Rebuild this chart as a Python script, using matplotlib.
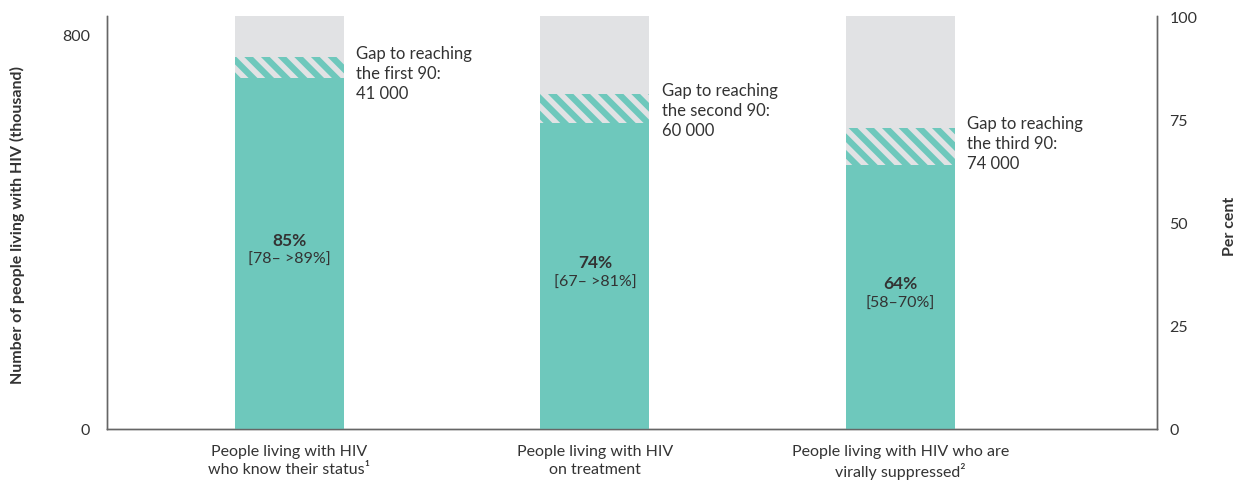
"""Treatment cascade bars with gaps to the 90-90-90 targets."""

import matplotlib
matplotlib.use("Agg")
import matplotlib.pyplot as plt

plt.rcParams["font.family"] = ["Lato", "DejaVu Sans"]
plt.rcParams["hatch.linewidth"] = 4.0

stages = [
    "People living with HIV\nwho know their status\u00b9",
    "People living with HIV\non treatment",
    "People living with HIV who are\nvirally suppressed\u00b2",
]
achieved = [85, 74, 64]          # per cent of all PLHIV
target = [90, 81, 73]            # 90, 90x90, 90x90x90
ranges = ["[78\u2013 >89%]", "[67\u2013 >81%]", "[58\u201370%]"]
gap_labels = [
    "Gap to reaching\nthe first 90:\n41 000",
    "Gap to reaching\nthe second 90:\n60 000",
    "Gap to reaching\nthe third 90:\n74 000",
]
plhiv_max = 838                  # thousand, equals 100 %

TEAL = "#6ec8bc"
GREY = "#e1e2e4"
TEXT = "#333333"
SPINE = "#666666"

fig = plt.figure(figsize=(12.42, 4.81), dpi=100)
ax = fig.add_axes([107 / 1242, 51 / 481, 1050 / 1242, 413 / 481])
ax2 = ax.twinx()

x = range(len(stages))
w = 0.357
ax2.bar(x, [100] * len(stages), width=w, color=GREY, linewidth=0)
gaps = [t - a for t, a in zip(target, achieved)]
ax2.bar(x, gaps, bottom=achieved, width=w, color=TEAL, edgecolor=GREY,
        hatch="\\\\", linewidth=0)
ax2.bar(x, achieved, width=w, color=TEAL, linewidth=0)

for i in x:
    mid = achieved[i] / 2
    ax2.annotate(f"{achieved[i]}%", (i, mid), xytext=(0, 10), textcoords="offset points",
                 ha="center", va="center", fontsize=12.5, fontweight="bold", color=TEXT)
    ax2.annotate(ranges[i], (i, mid), xytext=(0, -4), textcoords="offset points",
                 ha="center", va="center", fontsize=11.5, color=TEXT)
    ax2.annotate(gap_labels[i], (i + w / 2, target[i]), xytext=(9, 9),
                 textcoords="offset points", ha="left", va="top", fontsize=12,
                 color=TEXT, linespacing=1.3)

ax.set_xlim(-0.597, 2.84)
ax.set_ylim(0, plhiv_max)
ax2.set_ylim(0, 100)
ax.set_yticks([0, 800])
ax2.set_yticks([0, 25, 50, 75, 100])
ax.set_xticks(list(x))
ax.set_xticklabels(stages, fontsize=11.5, color=TEXT, linespacing=1.3)

for a in (ax, ax2):
    a.tick_params(length=0, labelsize=11.5, labelcolor=TEXT)
    a.spines["top"].set_visible(False)
    for s in ("left", "right", "bottom"):
        a.spines[s].set_color(SPINE)
        a.spines[s].set_linewidth(1.0)
ax.tick_params(axis="y", pad=12)
ax2.tick_params(axis="y", pad=9)
ax.tick_params(axis="x", pad=11)

fig.text(17 / 1242, 1 - 225 / 481, "Number of people living with HIV (thousand)",
         rotation=90, ha="center", va="center", fontsize=11.5,
         fontweight="bold", color=TEXT)
fig.text(1230 / 1242, 1 - 226 / 481, "Per cent", rotation=90, ha="center",
         va="center", fontsize=11.5, fontweight="bold", color=TEXT)

fig.savefig("out.png", dpi=100)
